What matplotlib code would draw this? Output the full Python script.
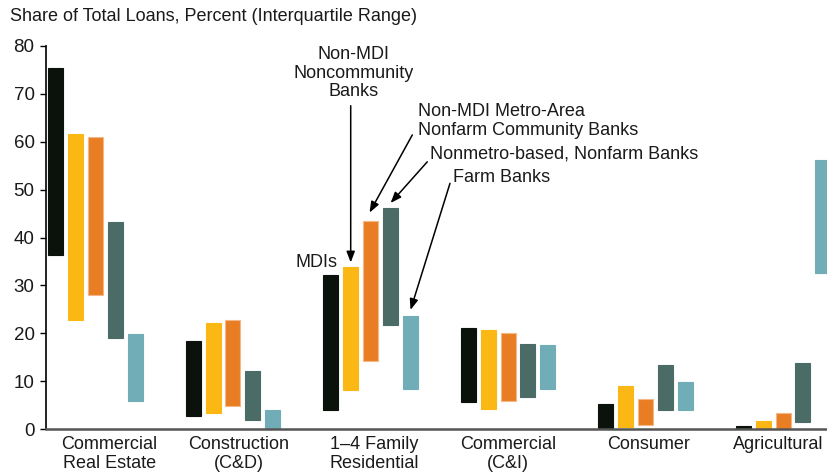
import matplotlib
matplotlib.use("Agg")
import matplotlib.pyplot as plt
import numpy as np

plt.rcParams['font.family'] = ['Liberation Sans', 'DejaVu Sans']

# interquartile ranges, share of total loans (percent)
categories = ["Commercial\nReal Estate", "Construction\n(C&D)", "1–4 Family\nResidential",
              "Commercial\n(C&I)", "Consumer", "Agricultural"]

mdi_low = [36.4, 2.8, 4.1, 5.6, 0.3, 0.0]
mdi_high = [75.4, 18.4, 32.2, 21.1, 5.3, 0.7]
noncomm_low = [22.7, 3.5, 8.1, 4.3, 0.5, 0.0]
noncomm_high = [61.6, 22.2, 33.9, 20.7, 9.0, 1.7]
metro_low = [28.1, 4.9, 14.3, 5.8, 0.8, 0.0]
metro_high = [60.9, 22.7, 43.4, 20.0, 6.3, 3.4]
nonmetro_low = [19.1, 2.0, 21.8, 6.8, 4.1, 1.6]
nonmetro_high = [43.2, 12.2, 46.2, 17.8, 13.4, 13.8]
farm_low = [5.8, 0.0, 8.3, 8.5, 4.1, 32.7]
farm_high = [19.9, 4.0, 23.6, 17.6, 9.9, 56.2]

series = [
    ("MDIs", mdi_low, mdi_high, "#0b110b"),
    ("Non-MDI Noncommunity Banks", noncomm_low, noncomm_high, "#fbb713"),
    ("Non-MDI Metro-Area Nonfarm Community Banks", metro_low, metro_high, "#e87d23"),
    ("Nonmetro-based, Nonfarm Banks", nonmetro_low, nonmetro_high, "#4a6b66"),
    ("Farm Banks", farm_low, farm_high, "#71adb6"),
]

fig = plt.figure(figsize=(8.28, 4.72), dpi=100)
ax = fig.add_axes([0.0552, 0.0905, 0.9448, 0.8125])

x = np.arange(len(categories))
step = 0.144
width = 0.109
for k, (name, low, high, color) in enumerate(series):
    low = np.array(low)
    high = np.array(high)
    edge = "#f4b888" if k == 2 else color
    ax.bar(x + (k - 2) * step, high - low, bottom=low, width=width,
           color=color, edgecolor=edge, linewidth=0.8, zorder=2)

ax.set_xlim(-0.362, 5.327)
ax.set_ylim(0, 80)
ax.set_yticks(range(0, 81, 10))
# category labels sit a little off the group centres in the original
label_shift = np.array([0.10, 0.04, 0.025, 0.0, 0.02, -0.035])
ax.set_xticks(x + label_shift)
ax.set_xticklabels(categories)
for lab in ax.get_xticklabels():
    lab.set_linespacing(1.1)
ax.tick_params(axis='x', length=0, pad=5, labelsize=13, labelcolor='#1a1a1a')
ax.tick_params(axis='y', length=4, width=1, pad=4, labelsize=13.5, labelcolor='#1a1a1a')

for side in ['top', 'right']:
    ax.spines[side].set_visible(False)
ax.spines['left'].set_linewidth(1.2)
ax.spines['bottom'].set_color('#555555')
ax.spines['bottom'].set_linewidth(1.8)
ax.spines['bottom'].set_zorder(3)

fig.text(10 / 828, 1 - 8 / 472, "Share of Total Loans, Percent (Interquartile Range)",
         fontsize=13, color='#1a1a1a', ha='left', va='top')

# annotations
arrow = dict(arrowstyle='-|>,head_length=0.65,head_width=0.25', color='black',
             lw=1.1, shrinkA=0, shrinkB=0)
txt = dict(fontsize=13, color='#1a1a1a')

ax.text(1.762, 33.8, "MDIs", ha='right', va='baseline', **txt)

ax.text(1.876, 79.9, "Non-MDI\nNoncommunity\nBanks", ha='center', va='top',
        linespacing=1.1, **txt)
ax.annotate("", xy=(2 - step, noncomm_high[2] + 0.9), xytext=(2 - step, 67.5),
            arrowprops=arrow)

ax.text(2.345, 68.0, "Non-MDI Metro-Area\nNonfarm Community Banks", ha='left', va='top',
        linespacing=1.1, **txt)
ax.annotate("", xy=(1.993, metro_high[2] + 1.8), xytext=(2.304, 61.4),
            arrowprops=arrow)

ax.text(2.432, 59.3, "Nonmetro-based, Nonfarm Banks", ha='left', va='top', **txt)
ax.annotate("", xy=(2.146, nonmetro_high[2] + 1.0), xytext=(2.413, 55.8),
            arrowprops=arrow)

ax.text(2.603, 54.2, "Farm Banks", ha='left', va='top', **txt)
ax.annotate("", xy=(2.291, farm_high[2] + 1.3), xytext=(2.578, 51.3),
            arrowprops=arrow)

fig.savefig("out.png", dpi=100)
